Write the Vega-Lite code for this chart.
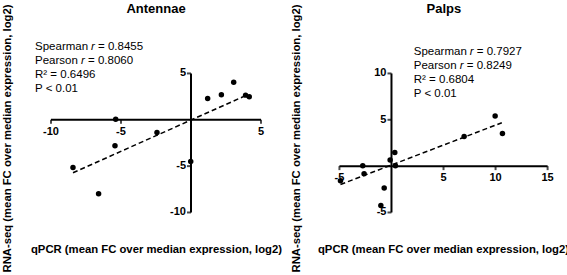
{
  "$schema": "https://vega.github.io/schema/vega-lite/v6.json",
  "padding": {"left": 0, "top": 3, "right": 0, "bottom": 0},
  "background": "white",
  "spacing": 21,
  "bounds": "flush",
  "config": {
    "view": {"stroke": null},
    "font": "Liberation Sans",
    "axis": {"domain": false, "ticks": false, "labels": false, "grid": false, "titleFont": "Liberation Sans", "titleFontSize": 11.3, "titleFontWeight": "bold", "titleColor": "black"},
    "text": {"font": "Liberation Sans", "color": "black"}
  },
  "datasets": {
    "antennae_points": [
      {"qpcr": -8.43, "rnaseq": -5.14}, {"qpcr": -6.6, "rnaseq": -7.99}, {"qpcr": -5.43, "rnaseq": -2.8},
      {"qpcr": -5.38, "rnaseq": 0.07}, {"qpcr": -2.43, "rnaseq": -1.37}, {"qpcr": -0.02, "rnaseq": -4.5},
      {"qpcr": 1.19, "rnaseq": 2.3}, {"qpcr": 2.17, "rnaseq": 2.7}, {"qpcr": 3.05, "rnaseq": 4.06},
      {"qpcr": 3.9, "rnaseq": 2.66}, {"qpcr": 4.16, "rnaseq": 2.48}
    ],
    "palps_points": [
      {"qpcr": -4.9, "rnaseq": -1.58}, {"qpcr": -2.76, "rnaseq": 0.04}, {"qpcr": -2.63, "rnaseq": -0.83},
      {"qpcr": -0.7, "rnaseq": -2.37}, {"qpcr": -1.02, "rnaseq": -4.24}, {"qpcr": -0.13, "rnaseq": 0.65},
      {"qpcr": 0.32, "rnaseq": 1.47}, {"qpcr": 0.38, "rnaseq": 0.04}, {"qpcr": 6.98, "rnaseq": 3.2},
      {"qpcr": 9.96, "rnaseq": 5.4}, {"qpcr": 10.66, "rnaseq": 3.53}
    ],
    "antennae_fit": [{"qpcr": -8.43, "rnaseq": -5.72}, {"qpcr": 3.98, "rnaseq": 2.66}],
    "palps_fit": [{"qpcr": -4.9, "rnaseq": -1.98}, {"qpcr": 10.6, "rnaseq": 4.68}],
    "antennae_axes": [{"x1": -10, "x2": 5, "y1": 0, "y2": 0}, {"x1": 0, "x2": 0, "y1": -10, "y2": 5}],
    "palps_axes": [{"x1": -5, "x2": 15, "y1": 0, "y2": 0}, {"x1": 0, "x2": 0, "y1": -5, "y2": 10}],
    "antennae_xticks": [{"value": -10, "label": "-10"}, {"value": -5, "label": "-5"}, {"value": 5, "label": "5"}],
    "antennae_yticks": [{"value": 5, "label": "5"}, {"value": -5, "label": "-5"}, {"value": -10, "label": "-10"}],
    "palps_xticks": [{"value": -5, "label": "-5"}, {"value": 5, "label": "5"}, {"value": 10, "label": "10"}, {"value": 15, "label": "15"}],
    "palps_yticks": [{"value": 10, "label": "10"}, {"value": 5, "label": "5"}, {"value": -5, "label": "-5"}]
  },
  "hconcat": [
    {
      "width": 252,
      "height": 194,
      "layer": [
        {
          "data": {"name": "antennae_axes"},
          "mark": {"type": "rule", "color": "black", "strokeWidth": 2},
          "encoding": {
            "x": {"field": "x1", "type": "quantitative", "scale": {"domain": [-11.5, 6.5], "nice": false, "zero": false}, "axis": {"title": "qPCR (mean FC over median expression, log2)", "titlePadding": 8}},
            "x2": {"field": "x2"},
            "y": {"field": "y1", "type": "quantitative", "scale": {"domain": [-12.43, 8.5], "nice": false, "zero": false}, "axis": {"title": "RNA-seq (mean FC over median expression, log2)", "titlePadding": 18}},
            "y2": {"field": "y2"}
          }
        },
        {
          "data": {"name": "antennae_xticks"},
          "mark": {"type": "tick", "orient": "vertical", "size": 4, "thickness": 2, "yOffset": 2, "color": "black"},
          "encoding": {"x": {"field": "value", "type": "quantitative"}, "y": {"datum": 0}}
        },
        {
          "data": {"name": "antennae_xticks"},
          "mark": {"type": "text", "baseline": "top", "align": "center", "dy": 6, "fontSize": 11, "fontWeight": "bold"},
          "encoding": {"x": {"field": "value", "type": "quantitative"}, "y": {"datum": 0}, "text": {"field": "label"}}
        },
        {
          "data": {"name": "antennae_yticks"},
          "mark": {"type": "tick", "orient": "horizontal", "size": 4, "thickness": 2, "xOffset": -2, "color": "black"},
          "encoding": {"y": {"field": "value", "type": "quantitative"}, "x": {"datum": 0}}
        },
        {
          "data": {"name": "antennae_yticks"},
          "mark": {"type": "text", "baseline": "middle", "align": "right", "dx": -5, "fontSize": 11, "fontWeight": "bold"},
          "encoding": {"y": {"field": "value", "type": "quantitative"}, "x": {"datum": 0}, "text": {"field": "label"}}
        },
        {
          "data": {"name": "antennae_fit"},
          "mark": {"type": "line", "color": "black", "strokeWidth": 1.5, "strokeDash": [5, 3]},
          "encoding": {"x": {"field": "qpcr", "type": "quantitative"}, "y": {"field": "rnaseq", "type": "quantitative"}}
        },
        {
          "data": {"name": "antennae_points"},
          "mark": {"type": "circle", "color": "black", "opacity": 1, "size": 30},
          "encoding": {"x": {"field": "qpcr", "type": "quantitative"}, "y": {"field": "rnaseq", "type": "quantitative"}}
        },
        {"data": {"values": [{}]}, "mark": {"type": "text", "align": "center", "baseline": "middle", "fontSize": 13, "fontWeight": "bold", "text": "Antennae"}, "encoding": {"x": {"datum": -2.5}, "y": {"datum": 11.92}}},
        {"data": {"values": [{}]}, "mark": {"type": "text", "align": "left", "baseline": "middle", "fontSize": 11.5, "text": "Spearman"}, "encoding": {"x": {"datum": -11.14}, "y": {"datum": 7.88}}},
        {"data": {"values": [{}]}, "mark": {"type": "text", "align": "left", "baseline": "middle", "fontSize": 11.5, "fontStyle": "italic", "text": "r", "dx": 56}, "encoding": {"x": {"datum": -11.14}, "y": {"datum": 7.88}}},
        {"data": {"values": [{}]}, "mark": {"type": "text", "align": "left", "baseline": "middle", "fontSize": 11.5, "text": "= 0.8455", "dx": 63}, "encoding": {"x": {"datum": -11.14}, "y": {"datum": 7.88}}},
        {"data": {"values": [{}]}, "mark": {"type": "text", "align": "left", "baseline": "middle", "fontSize": 11.5, "text": "Pearson", "dy": 14}, "encoding": {"x": {"datum": -11.14}, "y": {"datum": 7.88}}},
        {"data": {"values": [{}]}, "mark": {"type": "text", "align": "left", "baseline": "middle", "fontSize": 11.5, "fontStyle": "italic", "text": "r", "dx": 46, "dy": 14}, "encoding": {"x": {"datum": -11.14}, "y": {"datum": 7.88}}},
        {"data": {"values": [{}]}, "mark": {"type": "text", "align": "left", "baseline": "middle", "fontSize": 11.5, "text": "= 0.8060", "dx": 53, "dy": 14}, "encoding": {"x": {"datum": -11.14}, "y": {"datum": 7.88}}},
        {"data": {"values": [{}]}, "mark": {"type": "text", "align": "left", "baseline": "middle", "fontSize": 11.5, "text": "R² = 0.6496", "dy": 28}, "encoding": {"x": {"datum": -11.14}, "y": {"datum": 7.88}}},
        {"data": {"values": [{}]}, "mark": {"type": "text", "align": "left", "baseline": "middle", "fontSize": 11.5, "text": "P < 0.01", "dy": 42}, "encoding": {"x": {"datum": -11.14}, "y": {"datum": 7.88}}}
      ]
    },
    {
      "width": 280,
      "height": 194,
      "layer": [
        {
          "data": {"name": "palps_axes"},
          "mark": {"type": "rule", "color": "black", "strokeWidth": 2},
          "encoding": {
            "x": {"field": "x1", "type": "quantitative", "scale": {"domain": [-8.5, 18.4], "nice": false, "zero": false}, "axis": {"title": "qPCR (mean FC over median expression, log2)", "titlePadding": 8}},
            "x2": {"field": "x2"},
            "y": {"field": "y1", "type": "quantitative", "scale": {"domain": [-7.43, 13.5], "nice": false, "zero": false}, "axis": {"title": "RNA-seq (mean FC over median expression, log2)", "titlePadding": 2}},
            "y2": {"field": "y2"}
          }
        },
        {
          "data": {"name": "palps_xticks"},
          "mark": {"type": "tick", "orient": "vertical", "size": 4, "thickness": 2, "yOffset": 2, "color": "black"},
          "encoding": {"x": {"field": "value", "type": "quantitative"}, "y": {"datum": 0}}
        },
        {
          "data": {"name": "palps_xticks"},
          "mark": {"type": "text", "baseline": "top", "align": "center", "dy": 6, "fontSize": 11, "fontWeight": "bold"},
          "encoding": {"x": {"field": "value", "type": "quantitative"}, "y": {"datum": 0}, "text": {"field": "label"}}
        },
        {
          "data": {"name": "palps_yticks"},
          "mark": {"type": "tick", "orient": "horizontal", "size": 4, "thickness": 2, "xOffset": -2, "color": "black"},
          "encoding": {"y": {"field": "value", "type": "quantitative"}, "x": {"datum": 0}}
        },
        {
          "data": {"name": "palps_yticks"},
          "mark": {"type": "text", "baseline": "middle", "align": "right", "dx": -5, "fontSize": 11, "fontWeight": "bold"},
          "encoding": {"y": {"field": "value", "type": "quantitative"}, "x": {"datum": 0}, "text": {"field": "label"}}
        },
        {
          "data": {"name": "palps_fit"},
          "mark": {"type": "line", "color": "black", "strokeWidth": 1.5, "strokeDash": [5, 3]},
          "encoding": {"x": {"field": "qpcr", "type": "quantitative"}, "y": {"field": "rnaseq", "type": "quantitative"}}
        },
        {
          "data": {"name": "palps_points"},
          "mark": {"type": "circle", "color": "black", "opacity": 1, "size": 30},
          "encoding": {"x": {"field": "qpcr", "type": "quantitative"}, "y": {"field": "rnaseq", "type": "quantitative"}}
        },
        {"data": {"values": [{}]}, "mark": {"type": "text", "align": "center", "baseline": "middle", "fontSize": 13, "fontWeight": "bold", "text": "Palps"}, "encoding": {"x": {"datum": 5.04}, "y": {"datum": 16.93}}},
        {"data": {"values": [{}]}, "mark": {"type": "text", "align": "left", "baseline": "middle", "fontSize": 11.5, "text": "Spearman"}, "encoding": {"x": {"datum": 2.14}, "y": {"datum": 12.29}}},
        {"data": {"values": [{}]}, "mark": {"type": "text", "align": "left", "baseline": "middle", "fontSize": 11.5, "fontStyle": "italic", "text": "r", "dx": 56}, "encoding": {"x": {"datum": 2.14}, "y": {"datum": 12.29}}},
        {"data": {"values": [{}]}, "mark": {"type": "text", "align": "left", "baseline": "middle", "fontSize": 11.5, "text": "= 0.7927", "dx": 63}, "encoding": {"x": {"datum": 2.14}, "y": {"datum": 12.29}}},
        {"data": {"values": [{}]}, "mark": {"type": "text", "align": "left", "baseline": "middle", "fontSize": 11.5, "text": "Pearson", "dy": 14}, "encoding": {"x": {"datum": 2.14}, "y": {"datum": 12.29}}},
        {"data": {"values": [{}]}, "mark": {"type": "text", "align": "left", "baseline": "middle", "fontSize": 11.5, "fontStyle": "italic", "text": "r", "dx": 46, "dy": 14}, "encoding": {"x": {"datum": 2.14}, "y": {"datum": 12.29}}},
        {"data": {"values": [{}]}, "mark": {"type": "text", "align": "left", "baseline": "middle", "fontSize": 11.5, "text": "= 0.8249", "dx": 53, "dy": 14}, "encoding": {"x": {"datum": 2.14}, "y": {"datum": 12.29}}},
        {"data": {"values": [{}]}, "mark": {"type": "text", "align": "left", "baseline": "middle", "fontSize": 11.5, "text": "R² = 0.6804", "dy": 28}, "encoding": {"x": {"datum": 2.14}, "y": {"datum": 12.29}}},
        {"data": {"values": [{}]}, "mark": {"type": "text", "align": "left", "baseline": "middle", "fontSize": 11.5, "text": "P < 0.01", "dy": 42}, "encoding": {"x": {"datum": 2.14}, "y": {"datum": 12.29}}}
      ]
    }
  ]
}
